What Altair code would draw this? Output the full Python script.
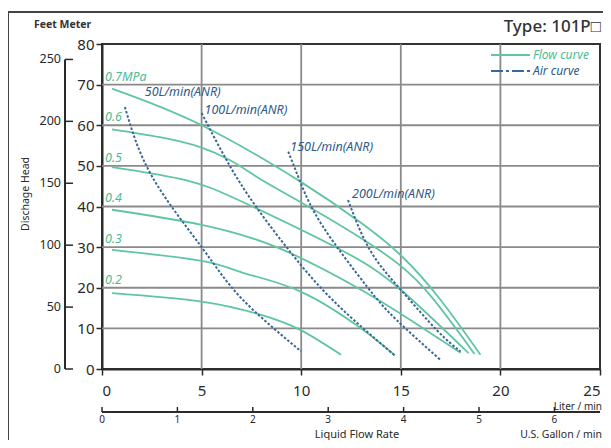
import altair as alt
import pandas as pd

# ---------------- data ----------------
pressure_names = ["0.2", "0.3", "0.4", "0.5", "0.6", "0.7"]
flow_x = [
    [0.5, 5, 8, 10, 12],
    [0.5, 5, 7.2, 10, 13, 14.7],
    [0.5, 5, 9, 13, 15.5, 18.0],
    [0.5, 4.2, 7.2, 12, 15, 18.4],
    [0.5, 5, 7.7, 10, 14, 16.5, 18.7],
    [0.5, 5, 10, 13, 15, 17, 19.0],
]
flow_y = [
    [18.7, 16.6, 13.3, 9.5, 3.5],
    [29.3, 26.6, 23.5, 19.0, 10.0, 3.4],
    [39.2, 35.5, 29.5, 19.5, 12.0, 4.0],
    [49.7, 46.5, 40.8, 29.3, 19.5, 3.9],
    [59.0, 54.5, 47.5, 41.0, 29.0, 18.0, 3.7],
    [69.0, 60.0, 46.0, 36.0, 28.0, 17.0, 3.5],
]

air_names = ["50L", "100L", "150L", "200L"]
air_x = [
    [1.15, 2.5, 5, 7, 10],
    [5, 6.3, 7.8, 10, 12.1, 14.7],
    [9.35, 10, 11.1, 13.3, 14.8, 17.0],
    [12.35, 13.45, 15, 16.8, 18.0],
]
air_y = [
    [64.5, 47.5, 30.0, 17.4, 4.3],
    [63.0, 51.0, 39.5, 25.5, 14.5, 3.3],
    [53.5, 45.5, 35.0, 20.3, 12.0, 2.2],
    [41.6, 29.3, 19.5, 9.6, 4.3],
]

pressure_labels = ["0.2", "0.3", "0.4", "0.5", "0.6", "0.7MPa"]
pressure_label_x = [0.15, 0.15, 0.15, 0.15, 0.15, 0.15]
pressure_label_y = [22, 32, 42, 52, 62, 72]

air_labels = ["50L/min(ANR)", "100L/min(ANR)", "150L/min(ANR)", "200L/min(ANR)"]
air_label_x = [2.15, 5.15, 9.45, 12.55]
air_label_y = [68.2, 63.8, 54.7, 43.1]

liter_ticks = [0, 5, 10, 15, 20, 25]
meter_ticks = [0, 10, 20, 30, 40, 50, 60, 70, 80]
feet_ticks = [0, 50, 100, 150, 200, 250]
gallon_ticks = [0, 1, 2, 3, 4, 5, 6]

FT_TO_M = 0.3048
GAL_TO_L = 3.78541

GREEN = "#5fc6a0"
GREEN_TXT = "#4dbb93"
BLUE = "#3a6899"
BLUE_TXT = "#2d5a8a"
DARK = "#2a2a2a"
GRID = "#8a8a8a"
FONT = "Noto Sans"

W, H = 498, 325

# ---------------- tables ----------------
rows = []
for name, xs_, ys_ in zip(pressure_names, flow_x, flow_y):
    for i, (a, b) in enumerate(zip(xs_, ys_)):
        rows.append({"curve": name, "i": i, "x": a, "y": b})
flow_df = pd.DataFrame(rows)

rows = []
for name, xs_, ys_ in zip(air_names, air_x, air_y):
    for i, (a, b) in enumerate(zip(xs_, ys_)):
        rows.append({"curve": name, "i": i, "x": a, "y": b})
air_df = pd.DataFrame(rows)

plab_df = pd.DataFrame({"t": pressure_labels, "x": pressure_label_x, "y": pressure_label_y})
alab_df = pd.DataFrame({"t": air_labels, "x": air_label_x, "y": air_label_y})
feet_df = pd.DataFrame({"x": [0.0] * len(feet_ticks), "y": [f * FT_TO_M for f in feet_ticks],
                        "lab": [str(f) for f in feet_ticks]})
feet_line_df = pd.DataFrame({"x": [0.0], "y": [0.0], "y2": [max(feet_ticks) * FT_TO_M]})
gal_df = pd.DataFrame({"x": [g * GAL_TO_L for g in gallon_ticks], "y": [0.0] * len(gallon_ticks),
                       "lab": [str(g) for g in gallon_ticks]})
gal_line_df = pd.DataFrame({"x": [0.0], "x2": [25.0], "y": [0.0]})
vgrid_df = pd.DataFrame({"x": liter_ticks[1:-1], "y": [0.0] * (len(liter_ticks) - 2)})
hgrid_df = pd.DataFrame({"x": [0.0] * (len(meter_ticks) - 2), "y": meter_ticks[1:-1]})
one = pd.DataFrame({"a": [0]})

xs = alt.Scale(domain=[0, 25], nice=False, zero=False)
ys = alt.Scale(domain=[0, 80], nice=False)

XAXIS = alt.Axis(values=liter_ticks, grid=False, tickSize=6, labelPadding=8, title="",
                 labelFontSize=15, domainColor=DARK, domainWidth=2, tickColor=DARK,
                 tickWidth=1.5, labelColor=DARK, labelFont=FONT)
YAXIS = alt.Axis(values=meter_ticks, grid=False, tickSize=6, labelPadding=2, title="",
                 labelFontSize=15, domainColor=DARK, domainWidth=2, tickColor=DARK,
                 tickWidth=1.5, labelColor=DARK, labelFont=FONT)


def X(field="x"):
    return alt.X(f"{field}:Q", scale=xs, axis=XAXIS, title="")


def Y(field="y"):
    return alt.Y(f"{field}:Q", scale=ys, axis=YAXIS, title="")


# ---------------- layers ----------------
vgrid = alt.Chart(vgrid_df).mark_rule(color=GRID, strokeWidth=1.8).encode(
    x=X(), y=alt.value(0), y2=alt.value(H))
hgrid = alt.Chart(hgrid_df).mark_rule(color=GRID, strokeWidth=1.8).encode(
    y=Y(), x=alt.value(0), x2=alt.value(W))

flow = alt.Chart(flow_df).mark_line(color=GREEN, strokeWidth=1.8, interpolate="natural").encode(
    x=X(), y=Y(), detail="curve:N", order="i:Q")

air = alt.Chart(air_df).mark_line(color=BLUE, strokeWidth=2, strokeDash=[2.5, 1.8],
                                  interpolate="natural").encode(
    x=X(), y=Y(), detail="curve:N", order="i:Q")

plab = alt.Chart(plab_df).mark_text(align="left", baseline="middle", fontStyle="italic",
                                    fontSize=12.5, font=FONT, color=GREEN_TXT).encode(
    x=X(), y=Y(), text="t:N")

alab = alt.Chart(alab_df).mark_text(align="left", baseline="middle", fontStyle="italic",
                                    fontSize=12.5, font=FONT, color=BLUE_TXT).encode(
    x=X(), y=Y(), text="t:N")

# feet axis (left, secondary) - placed through the shared metre scale
feet_line = alt.Chart(feet_line_df).mark_rule(color=DARK, strokeWidth=2).encode(
    x=alt.value(-37), y=Y(), y2="y2:Q")
feet_ticks_m = alt.Chart(feet_df).mark_rule(color=DARK, strokeWidth=1.5).encode(
    x=alt.value(-37), x2=alt.value(-29), y=Y())
feet_labels = alt.Chart(feet_df).mark_text(align="right", baseline="middle", fontSize=12.5,
                                           font=FONT, color=DARK).encode(
    x=alt.value(-41), y=Y(), text="lab:N")

# gallon axis (bottom, secondary) - placed through the shared litre scale
gal_line = alt.Chart(gal_line_df).mark_rule(color=DARK, strokeWidth=2).encode(
    x=X(), x2="x2:Q", y=alt.value(368))
gal_ticks_r = alt.Chart(gal_df).mark_rule(color=DARK, strokeWidth=1.5).encode(
    x=X(), y=alt.value(363), y2=alt.value(368))
gal_labels = alt.Chart(gal_df).mark_text(align="center", baseline="middle", fontSize=10,
                                         font=FONT, color=DARK).encode(
    x=X(), y=alt.value(376), text="lab:N")

# legend
leg_green = alt.Chart(one).mark_rule(color=GREEN, strokeWidth=1.8).encode(
    x=alt.value(389), x2=alt.value(428), y=alt.value(11))
leg_blue = alt.Chart(one).mark_rule(color=BLUE, strokeWidth=1.8, strokeDash=[12, 3, 3, 3]).encode(
    x=alt.value(389), x2=alt.value(428), y=alt.value(27))
leg_t1 = alt.Chart(one).mark_text(text="Flow curve", align="left", baseline="middle",
                                  fontStyle="italic", fontSize=12, font=FONT,
                                  color=GREEN_TXT).encode(x=alt.value(431), y=alt.value(11))
leg_t2 = alt.Chart(one).mark_text(text="Air curve", align="left", baseline="middle",
                                  fontStyle="italic", fontSize=12, font=FONT,
                                  color=BLUE_TXT).encode(x=alt.value(431), y=alt.value(27))


def txt(s, x, y, size, align="left", angle=0, weight="normal", color=DARK, baseline="middle"):
    kw = dict(text=s, align=align, baseline=baseline, fontSize=size, font=FONT,
              fontWeight=weight, color=color)
    if angle:
        kw["angle"] = angle
    return alt.Chart(one).mark_text(**kw).encode(x=alt.value(x), y=alt.value(y))


t_type = txt("Type: 101P\u25a1", 499, -17, 17, align="right", weight=500, color="#333333")
t_fm = txt("Feet Meter", -68, -19, 10.5, weight="bold", color="#333333")
t_head = txt("Dischage Head", -76, 150, 10.5, align="center", angle=270)
t_liter = txt("Liter / min", 500, 363, 10, align="right")
t_flow = txt("Liquid Flow Rate", 255, 396, 11, align="center", baseline="bottom")
t_gal = txt("U.S. Gallon / min", 500, 396, 10.5, align="right", baseline="bottom")

# outer frame
frame_top = alt.Chart(one).mark_rule(color="#444444", strokeWidth=2).encode(
    x=alt.value(-94), x2=alt.value(510), y=alt.value(-32))
frame_left = alt.Chart(one).mark_rule(color="#444444", strokeWidth=2).encode(
    x=alt.value(-94), y=alt.value(-32), y2=alt.value(400))

chart = alt.layer(
    vgrid, hgrid,
    flow, air, plab, alab,
    feet_line, feet_ticks_m, feet_labels,
    gal_line, gal_ticks_r, gal_labels,
    leg_green, leg_blue, leg_t1, leg_t2,
    t_type, t_fm, t_head, t_liter, t_flow, t_gal,
    frame_top, frame_left,
).properties(
    width=W, height=H,
    padding={"left": 94, "top": 36, "right": 3, "bottom": 71},
    autosize=alt.AutoSizeParams(type="none"),
).configure_view(
    stroke="#333333", strokeWidth=2
)

chart.save("out.html", embed_options={"renderer": "svg", "actions": False})
